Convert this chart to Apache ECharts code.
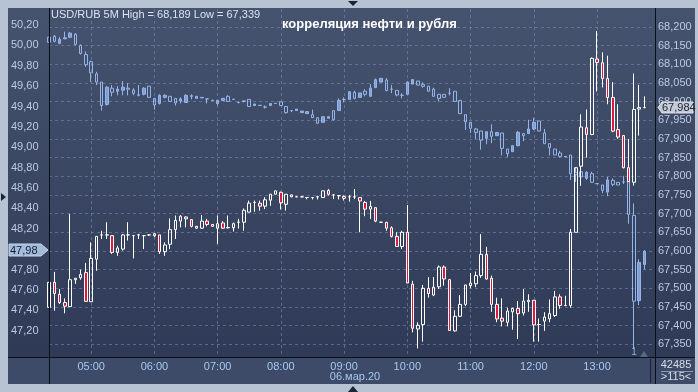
<!DOCTYPE html>
<html>
<head>
<meta charset="utf-8">
<script src="https://cdn.jsdelivr.net/npm/echarts@6/dist/echarts.min.js"></script>
<style>
html,body{margin:0;padding:0;background:#b7c3d3;}
#chart{width:698px;height:392px;}
</style>
</head>
<body>
<div id="chart"></div>
<script>
// time categories (5-minute bars)
const categories = [
 '04:20','04:25','04:30','04:35','04:40','04:45','04:50','04:55',
 '05:00','05:05','05:10','05:15','05:20','05:25','05:30','05:35','05:40','05:45','05:50','05:55',
 '06:00','06:05','06:10','06:15','06:20','06:25','06:30','06:35','06:40','06:45','06:50','06:55',
 '07:00','07:05','07:10','07:15','07:20','07:25','07:30','07:35','07:40','07:45','07:50','07:55',
 '08:00','08:05','08:10','08:15','08:20','08:25','08:30','08:35','08:40','08:45','08:50','08:55',
 '09:00','09:05','09:10','09:15','09:20','09:25','09:30','09:35','09:40','09:45','09:50','09:55',
 '10:00','10:05','10:10','10:15','10:20','10:25','10:30','10:35','10:40','10:45','10:50','10:55',
 '11:00','11:05','11:10','11:15','11:20','11:25','11:30','11:35','11:40','11:45','11:50','11:55',
 '12:00','12:05','12:10','12:15','12:20','12:25','12:30','12:35','12:40','12:45','12:50','12:55',
 '13:00','13:05','13:10','13:15','13:20','13:25','13:30','13:35','13:40','13:45','13:50','13:55'
];
const hourLabels = ['05:00','06:00','07:00','08:00','09:00','10:00','11:00','12:00','13:00'];
const dateLabel = '06.мар.20';

// Oil (left axis): [open, close, low, high]
const oilOHLC = [
 [50.08,50.03,50.03,50.08],[50.09,50.04,50.03,50.10],[50.02,50.06,50.01,50.08],[50.065,50.075,50.06,50.135],
 [50.08,50.12,50.07,50.13],[50.11,50.01,50.00,50.12],[50.00,49.92,49.91,50.01],[49.91,49.81,49.79,49.94],
 [49.84,49.73,49.64,49.85],[49.72,49.64,49.61,49.74],[49.64,49.41,49.36,49.64],[49.42,49.59,49.41,49.60],
 [49.58,49.54,49.50,49.61],[49.55,49.57,49.51,49.60],[49.56,49.59,49.51,49.65],[49.58,49.57,49.51,49.63],
 [49.56,49.53,49.51,49.58],[49.515,49.51,49.50,49.61],[49.52,49.58,49.51,49.59],[49.60,49.49,49.49,49.60],
 [49.48,49.415,49.37,49.48],[49.43,49.51,49.42,49.52],[49.49,49.51,49.48,49.52],[49.50,49.45,49.45,49.50],
 [49.48,49.435,49.41,49.48],[49.455,49.475,49.43,49.49],[49.44,49.51,49.44,49.52],[49.50,49.505,49.47,49.52],
 [49.48,49.50,49.48,49.50],[49.485,49.49,49.485,49.49],[49.475,49.475,49.43,49.48],[49.46,49.462,49.46,49.462],
 [49.43,49.46,49.41,49.46],[49.46,49.48,49.46,49.48],[49.50,49.45,49.45,49.51],[49.47,49.472,49.47,49.472],
 [49.44,49.44,49.43,49.45],[49.455,49.45,49.44,49.46],[49.47,49.40,49.40,49.47],[49.41,49.425,49.41,49.425],
 [49.41,49.412,49.41,49.412],[49.395,49.395,49.38,49.41],[49.41,49.43,49.41,49.43],[49.43,49.432,49.43,49.432],
 [49.445,49.41,49.41,49.445],[49.40,49.34,49.33,49.40],[49.36,49.36,49.345,49.365],[49.36,49.375,49.36,49.375],
 [49.34,49.356,49.34,49.356],[49.33,49.35,49.33,49.35],[49.32,49.29,49.29,49.37],[49.29,49.235,49.235,49.29],
 [49.245,49.30,49.245,49.30],[49.285,49.30,49.285,49.30],[49.36,49.27,49.26,49.36],[49.36,49.46,49.36,49.48],
 [49.47,49.47,49.44,49.49],[49.47,49.545,49.47,49.55],[49.54,49.48,49.47,49.555],[49.49,49.533,49.49,49.533],
 [49.55,49.52,49.50,49.57],[49.50,49.58,49.50,49.62],[49.585,49.663,49.585,49.675],[49.64,49.677,49.64,49.677],
 [49.66,49.556,49.55,49.68],[49.57,49.57,49.53,49.61],[49.559,49.513,49.50,49.559],[49.51,49.51,49.48,49.53],
 [49.52,49.64,49.52,49.645],[49.62,49.664,49.62,49.67],[49.65,49.61,49.61,49.65],[49.617,49.598,49.585,49.637],
 [49.60,49.55,49.55,49.60],[49.57,49.50,49.50,49.585],[49.52,49.48,49.45,49.52],[49.52,49.49,49.49,49.52],
 [49.53,49.53,49.51,49.58],[49.55,49.45,49.45,49.55],[49.46,49.33,49.33,49.46],[49.32,49.25,49.17,49.32],
 [49.245,49.186,49.14,49.25],[49.18,49.146,49.08,49.19],[49.16,49.07,48.977,49.16],[49.088,49.153,49.03,49.153],
 [49.153,49.107,49.04,49.225],[49.114,49.146,49.114,49.146],[49.14,48.99,48.92,49.14],[48.983,48.937,48.905,48.983],
 [48.957,49.016,48.957,49.016],[49.016,49.147,49.01,49.16],[49.134,49.114,49.06,49.134],[49.134,49.18,49.134,49.27],
 [49.18,49.245,49.17,49.29],[49.258,49.16,49.16,49.258],[49.14,49.035,49.035,49.18],[49.036,48.996,48.92,49.036],
 [48.983,48.924,48.924,48.983],[48.944,48.911,48.898,48.964],[48.905,48.91,48.905,48.91],[48.924,48.74,48.68,48.924],
 [48.754,48.735,48.66,48.80],[48.76,48.71,48.62,48.76],[48.695,48.754,48.68,48.767],[48.741,48.656,48.65,48.76],
 [48.643,48.643,48.643,48.645],[48.63,48.578,48.55,48.63],[48.56,48.68,48.52,48.71],[48.676,48.636,48.617,48.695],
 [48.656,48.63,48.63,48.656],[48.66,48.66,48.64,48.72],[48.67,48.342,48.25,48.67],[48.33,47.49,47.02,48.45],
 [47.495,47.87,47.45,47.90],[47.85,47.98,47.80,47.99]
];

// USD/RUB (right axis): [open, close, low, high]
const usdOHLC = [
 [67.449,67.516,67.449,67.516],[67.516,67.486,67.44,67.544],[67.484,67.462,67.458,67.498],[67.462,67.452,67.433,67.473],
 [67.451,67.523,67.450,67.699],[67.523,67.527,67.512,67.527],[67.528,67.537,67.523,67.550],[67.542,67.465,67.465,67.568],
 [67.464,67.580,67.464,67.623],[67.578,67.639,67.547,67.640],[67.643,67.643,67.632,67.654],[67.643,67.643,67.632,67.677],
 [67.641,67.596,67.592,67.641],[67.596,67.608,67.587,67.614],[67.605,67.643,67.601,67.645],[67.643,67.643,67.628,67.677],
 [67.641,67.641,67.580,67.642],[67.643,67.643,67.632,67.646],[67.641,67.641,67.605,67.642],[67.643,67.643,67.640,67.645],
 [67.646,67.641,67.637,67.648],[67.643,67.598,67.592,67.643],[67.598,67.616,67.587,67.623],[67.618,67.657,67.605,67.687],
 [67.657,67.682,67.632,67.695],[67.680,67.693,67.663,67.696],[67.691,67.686,67.663,67.693],[67.684,67.666,67.663,67.685],
 [67.666,67.661,67.659,67.667],[67.661,67.680,67.659,67.696],[67.680,67.671,67.666,67.686],[67.671,67.666,67.665,67.672],
 [67.661,67.673,67.619,67.695],[67.675,67.661,67.659,67.680],[67.662,67.663,67.660,67.695],[67.662,67.673,67.652,67.676],
 [67.677,67.677,67.660,67.686],[67.677,67.709,67.654,67.714],[67.704,67.728,67.704,67.735],[67.730,67.730,67.705,67.735],
 [67.728,67.720,67.708,67.735],[67.720,67.737,67.712,67.744],[67.736,67.752,67.721,67.752],[67.752,67.761,67.752,67.761],
 [67.757,67.729,67.711,67.759],[67.725,67.752,67.708,67.752],[67.750,67.745,67.744,67.751],[67.745,67.745,67.744,67.746],
 [67.745,67.745,67.744,67.746],[67.743,67.743,67.738,67.744],[67.743,67.743,67.738,67.744],[67.745,67.745,67.738,67.748],
 [67.743,67.761,67.743,67.761],[67.762,67.752,67.748,67.766],[67.750,67.750,67.739,67.752],[67.748,67.748,67.738,67.749],
 [67.746,67.741,67.735,67.749],[67.745,67.745,67.732,67.750],[67.745,67.745,67.739,67.766],[67.743,67.734,67.650,67.743],
 [67.730,67.712,67.693,67.734],[67.712,67.719,67.686,67.734],[67.716,67.680,67.677,67.716],[67.677,67.677,67.676,67.678],
 [67.677,67.661,67.654,67.677],[67.662,67.639,67.636,67.666],[67.639,67.612,67.612,67.650],[67.612,67.650,67.605,67.654],
 [67.650,67.514,67.514,67.723],[67.511,67.393,67.382,67.520],[67.391,67.401,67.339,67.409],[67.403,67.500,67.357,67.509],
 [67.500,67.486,67.475,67.530],[67.482,67.503,67.479,67.530],[67.504,67.557,67.498,67.561],[67.557,67.525,67.507,67.561],
 [67.523,67.387,67.386,67.525],[67.386,67.425,67.384,67.441],[67.425,67.457,67.423,67.482],[67.457,67.509,67.452,67.509],
 [67.507,67.514,67.500,67.541],[67.512,67.534,67.503,67.545],[67.534,67.591,67.528,67.645],[67.591,67.525,67.523,67.611],
 [67.527,67.457,67.437,67.534],[67.457,67.418,67.409,67.475],[67.420,67.412,67.398,67.473],[67.409,67.439,67.398,67.448],
 [67.437,67.446,67.389,67.448],[67.446,67.432,67.364,67.466],[67.434,67.466,67.427,67.498],[67.464,67.468,67.437,67.484],
 [67.468,67.402,67.357,67.468],[67.403,67.403,67.357,67.419],[67.412,67.423,67.386,67.436],[67.418,67.432,67.409,67.470],
 [67.427,67.477,67.423,67.493],[67.477,67.454,67.445,67.484],[67.454,67.454,67.452,67.480],[67.454,67.650,67.448,67.659],
 [67.650,67.823,67.650,67.823],[67.827,67.932,67.775,67.966],[67.930,67.912,67.850,67.979],[67.912,68.116,67.910,68.118],
 [68.114,68.105,68.027,68.189],[68.104,68.062,68.038,68.132],[68.062,68.011,67.993,68.123],[68.011,67.921,67.918,68.052],
 [67.925,67.905,67.900,67.993],[67.909,67.823,67.821,67.909],[67.823,67.786,67.784,67.900],[67.784,67.979,67.775,68.075],
 [67.980,67.984,67.909,68.045],[67.984,67.984,67.982,68.014]
];

const headerText = 'USD/RUB 5M High = 68,189 Low = 67,339';
const titleText = 'корреляция нефти и рубля';
const oilLast = '47,98';
const usdLast = '67,984';
const volumeText = '42485';
const barsText = '>115<';

const FONT = "'Liberation Sans Narrow', 'Arial Narrow', 'Liberation Sans', sans-serif";
const chart = echarts.init(document.getElementById('chart'));
const isHour = (i, v) => hourLabels.indexOf(v) >= 0;
const gridLine = { show: true, interval: isHour, lineStyle: { color: 'rgba(125,145,180,0.55)', type: [3, 3], width: 1 } };

chart.setOption({
  animation: false,
  backgroundColor: '#b7c3d3',
  grid: [
    { left: 49, right: 43, top: 9, bottom: 35 },
    { left: 49, right: 43, top: 27, bottom: 47.7 },
    { left: 49, right: 43, top: 25, bottom: 61.3 }
  ],
  xAxis: [
    { gridIndex: 0, type: 'category', data: categories, boundaryGap: false,
      axisLine: { show: false }, axisTick: { show: false },
      axisLabel: { interval: isHour, color: '#a6c8f0', fontSize: 11, fontFamily: FONT, margin: 4 },
      splitLine: gridLine },
    { gridIndex: 1, type: 'category', data: categories, boundaryGap: false, show: false },
    { gridIndex: 2, type: 'category', data: categories, boundaryGap: false, show: false }
  ],
  yAxis: [
    { gridIndex: 0, type: 'value', min: 46.942, max: 50.357, show: false, splitLine: { show: false } },
    { gridIndex: 0, type: 'value', min: 67.316, max: 68.248, show: false, splitLine: { show: false } },
    { gridIndex: 1, type: 'value', position: 'right', min: 67.35, max: 68.2, interval: 0.05,
      axisLine: { show: false }, axisTick: { show: false },
      axisLabel: { margin: 3, color: '#bccadf', fontSize: 11, fontFamily: FONT,
        formatter: v => v.toFixed(3).replace('.', ',') },
      splitLine: { show: true, lineStyle: { color: 'rgba(125,145,180,0.55)', type: [3, 3], width: 1 } } },
    { gridIndex: 2, type: 'value', position: 'left', min: 47.2, max: 50.2, interval: 0.2,
      axisLine: { show: false }, axisTick: { show: false },
      axisLabel: { margin: 38, align: 'left', color: '#bccadf', fontSize: 11, fontFamily: FONT,
        formatter: v => v.toFixed(2).replace('.', ',') },
      splitLine: { show: false } }
  ],
  series: [
    { name: 'oil', type: 'candlestick', xAxisIndex: 0, yAxisIndex: 0, data: oilOHLC, barWidth: 3, z: 3,
      itemStyle: { color: '#7f9fd6', color0: 'transparent', borderColor: '#94b4ea', borderColor0: '#94b4ea',
        borderColorDoji: '#94b4ea', borderWidth: 1 } },
    { name: 'usdrub', type: 'candlestick', xAxisIndex: 0, yAxisIndex: 1, data: usdOHLC, barWidth: 3, z: 4,
      itemStyle: { color: 'transparent', color0: '#e2173d', borderColor: '#ffffff', borderColor0: '#ffffff',
        borderColorDoji: '#ffffff', borderWidth: 1 } }
  ],
  graphic: [
    { type: 'rect', z: -10, shape: { x: 8, y: 8, width: 687, height: 349 },
      style: { fill: new echarts.graphic.LinearGradient(0, 0, 0, 1, [
        { offset: 0, color: '#46536f' }, { offset: 1, color: '#2e3a56' }]) } },
    { type: 'rect', z: -10, shape: { x: 8, y: 357, width: 687, height: 27 }, style: { fill: '#3d4b68' } },
    { type: 'line', z: 50, shape: { x1: 49.5, y1: 8, x2: 49.5, y2: 384 }, style: { stroke: '#0a0f18', lineWidth: 1 } },
    { type: 'line', z: 50, shape: { x1: 655.5, y1: 8, x2: 655.5, y2: 384 }, style: { stroke: '#0a0f18', lineWidth: 1 } },
    { type: 'line', z: 50, shape: { x1: 8, y1: 357.5, x2: 695, y2: 357.5 }, style: { stroke: '#0a0f18', lineWidth: 1 } },
    { type: 'line', z: 50, shape: { x1: 650.5, y1: 359, x2: 650.5, y2: 383 }, style: { stroke: '#1a2233', lineWidth: 1 } },
    { type: 'polygon', z: 50, shape: { points: [[348, 1], [358, 1], [353, 6]] }, style: { fill: '#1b2535' } },
    { type: 'polygon', z: 50, shape: { points: [[348, 392], [358, 392], [353, 386]] }, style: { fill: '#1b2535' } },
    { type: 'polygon', z: 50, shape: { points: [[1, 193], [1, 201], [6, 197]] }, style: { fill: '#1b2535' } },
    { type: 'text', z: 50, style: { text: headerText, x: 51, y: 15, verticalAlign: 'middle',
      font: "11px " + FONT, fill: '#dbe3f0' } },
    { type: 'text', z: 50, style: { text: titleText, x: 282, y: 24, verticalAlign: 'middle',
      font: "bold 13px 'Liberation Sans', sans-serif", fill: '#ffffff' } },
    { type: 'text', z: 50, style: { text: dateLabel, x: 355, y: 377, align: 'center', verticalAlign: 'middle',
      font: "11px " + FONT, fill: '#a6c8f0' } },
    { type: 'text', z: 50, style: { text: volumeText, x: 676, y: 365, align: 'center', verticalAlign: 'middle',
      font: "11px " + FONT, fill: '#d5dce8' } },
    { type: 'line', z: 50, shape: { x1: 661, y1: 371.5, x2: 693, y2: 371.5 }, style: { stroke: '#8c98ac', lineWidth: 1 } },
    { type: 'text', z: 50, style: { text: barsText, x: 676, y: 377, align: 'center', verticalAlign: 'middle',
      font: "11px " + FONT, fill: '#d5dce8' } },
    { type: 'text', z: 50, style: { text: '1', x: 634, y: 352, align: 'center', verticalAlign: 'middle',
      font: "10px " + FONT, fill: '#8fb0e8' } },
    { type: 'polygon', z: 50, shape: { points: [[640, 357], [648, 357], [644, 351]] }, style: { fill: '#5d6880' } },
    { type: 'polygon', z: 60, shape: { points: [[9, 244], [41, 244], [48, 250], [41, 256], [9, 256]] },
      style: { fill: '#a3bad8', stroke: '#c7d5ea', lineWidth: 1 } },
    { type: 'text', z: 61, style: { text: oilLast, x: 10, y: 250.5, verticalAlign: 'middle',
      font: "11px " + FONT, fill: '#14203a' } },
    { type: 'polygon', z: 60, shape: { points: [[658, 107.5], [662, 102], [693, 102], [693, 113], [662, 113]] },
      style: { fill: '#c5cbd5', stroke: '#e0e4ea', lineWidth: 1 } },
    { type: 'text', z: 61, style: { text: usdLast, x: 662, y: 108, verticalAlign: 'middle',
      font: "11px " + FONT, fill: '#1a2233' } }
  ]
});
</script>
</body>
</html>
